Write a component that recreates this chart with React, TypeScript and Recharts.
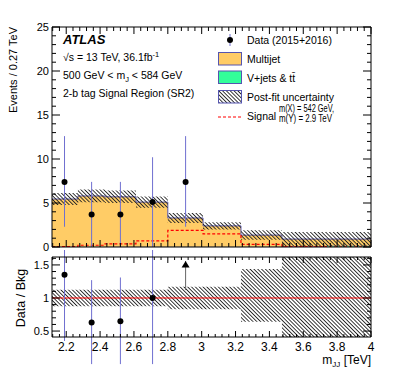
import React from 'react';
import { ComposedChart, Area, Line, Scatter, ErrorBar, XAxis, YAxis, ReferenceLine } from 'recharts';

// ---------- data ----------
const binEdges = [2.116, 2.269, 2.429, 2.612, 2.8, 3.008, 3.232, 3.474, 3.734, 4.0];
const multijet = [5.43, 5.78, 5.68, 5.08, 3.28, 2.38, 1.33, 0.85, 0.75];
const vjetsTT = [0.02, 0.02, 0.02, 0.02, 0.02, 0.02, 0.02, 0.05, 0.15];
const bkgUnc = [0.68, 0.72, 0.71, 0.64, 0.56, 0.41, 0.54, 0.8, 0.8];
const signal = [0.05, 0.2, 0.35, 0.7, 1.9, 1.5, 0.3, 0.05, 0.02];

const ratioBandLow = [0.875, 0.875, 0.875, 0.875, 0.83, 0.83, 0.64, 0.1, 0.1];
const ratioBandHigh = [1.125, 1.125, 1.125, 1.125, 1.17, 1.17, 1.44, 1.9, 1.9];

const dataX = [2.19, 2.35, 2.52, 2.71, 2.905];
const dataY = [7.4, 3.7, 3.7, 5.1, 7.4];
const dataErrLow = [5.1, 3.7, 3.7, 5.1, 5.1];
const dataErrHigh = [5.2, 3.7, 3.7, 5.1, 5.2];

const ratioX = [2.19, 2.35, 2.52, 2.71];
const ratioY = [1.35, 0.63, 0.65, 1.0];
const ratioErrLow = [1.0, 0.63, 0.65, 1.0];
const ratioErrHigh = [0.7, 0.64, 0.66, 1.0];

const arrowX = [2.905];
const arrowY = [1.56];
const arrowLen = [0.44];

const xMajorTicks = [2.2, 2.4, 2.6, 2.8, 3.0, 3.2, 3.4, 3.6, 3.8, 4.0];
const yTopMajorTicks = [0, 5, 10, 15, 20, 25];
const yRatioMajorTicks = [0.5, 1, 1.5];

// ---------- derived tables ----------
const histRows = binEdges.map((x, i) => {
  const j = Math.min(i, multijet.length - 1);
  const tot = multijet[j] + vjetsTT[j];
  return {
    x,
    vj: vjetsTT[j],
    mj: multijet[j],
    band: [tot - bkgUnc[j], tot + bkgUnc[j]],
    sig: signal[j],
    rband: [ratioBandLow[j], ratioBandHigh[j]],
  };
});
const dataPts = dataX.map((x, i) => ({ x, y: dataY[i], err: [dataErrLow[i], dataErrHigh[i]] }));
const ratioPts = ratioX.map((x, i) => ({ x, y: ratioY[i], err: [ratioErrLow[i], ratioErrHigh[i]] }));
const arrowPts = arrowX.map((x, i) => ({ x, y: arrowY[i], err: [arrowLen[i], 0] }));

const round = (v: number) => Math.round(v * 1000) / 1000;
function withMinor(lo: number, hi: number, step: number) {
  const out: number[] = [];
  const start = Math.ceil(lo / step - 1e-9);
  const end = Math.floor(hi / step + 1e-9);
  for (let k = start; k <= end; k++) out.push(round(k * step));
  return out;
}
const X_DOMAIN: [number, number] = [2.116, 4.0];
const xTicks = withMinor(2.116, 4.0, 0.04);
const yTopTicks = withMinor(0, 25, 1);
const R_DOMAIN: [number, number] = [0.41, 1.62];
const yRatioTicks = withMinor(0.41, 1.62, 0.1);

const FONT = "'Liberation Sans', Arial, Helvetica, sans-serif";
const isIn = (v: number, arr: number[]) => arr.some((a) => Math.abs(a - v) < 1e-6);
const fmt = (v: number) => String(Math.round(v * 10) / 10);

function xTick(side: 'bottom' | 'top', majLen: number, minLen: number, label: boolean, fs: number) {
  return (p: any) => {
    const v = p.payload.value;
    const maj = isIn(v, xMajorTicks);
    const len = maj ? majLen : minLen;
    const dir = side === 'bottom' ? -1 : 1;
    return (
      <g>
        <line x1={p.x} x2={p.x} y1={p.y} y2={p.y + dir * len} stroke="#000" strokeWidth={1} />
        {label && maj && (
          <text x={p.x} y={p.y + 14} textAnchor="middle" fontSize={fs} fontFamily={FONT} fill="#000">
            {fmt(v)}
          </text>
        )}
      </g>
    );
  };
}
function yTick(side: 'left' | 'right', majors: number[], majLen: number, minLen: number, label: boolean, fs: number) {
  return (p: any) => {
    const v = p.payload.value;
    const maj = isIn(v, majors);
    const len = maj ? majLen : minLen;
    const dir = side === 'left' ? 1 : -1;
    return (
      <g>
        <line x1={p.x} x2={p.x + dir * len} y1={p.y} y2={p.y} stroke="#000" strokeWidth={1} />
        {label && maj && (
          <text x={p.x - 3} y={p.y + 4} textAnchor="end" fontSize={fs} fontFamily={FONT} fill="#000">
            {fmt(v)}
          </text>
        )}
      </g>
    );
  };
}

const dot = (p: any) => <circle cx={p.cx} cy={p.cy} r={3} fill="#000" />;
const tri = (p: any) => (
  <polygon points={`${p.cx},${p.cy} ${p.cx - 4},${p.cy + 6.5} ${p.cx + 4},${p.cy + 6.5}`} fill="#000" />
);

const ORANGE = '#ffcc66';
const GREEN = '#33ff99';
const OUTLINE = '#5555b0';
const ERRC = '#6f6fd0';

const axisLine = { stroke: '#000', strokeWidth: 1 };

export default function App() {
  return (
    <div style={{ position: 'absolute', left: 0, top: 0, width: 399, height: 383, background: '#fff', fontFamily: FONT }}>
      <style>{`.ratio-clip .recharts-scatter, .ratio-clip .recharts-area { clip-path: url(#ratioClip); } .main-clip .recharts-scatter { clip-path: url(#mainClip); }`}</style>
      <svg width={1} height={1} style={{ position: 'absolute', left: 0, top: 0 }}>
        <defs>
          <pattern id="hatch" patternUnits="userSpaceOnUse" width={2.7} height={2.7} patternTransform="rotate(-45)">
            <line x1={1.35} y1={0} x2={1.35} y2={2.7} stroke="#222" strokeWidth={0.9} />
          </pattern>
          <clipPath id="ratioClip" clipPathUnits="userSpaceOnUse">
            <rect x={52} y={7} width={319} height={80} />
          </clipPath>
          <clipPath id="mainClip" clipPathUnits="userSpaceOnUse">
            <rect x={52} y={27} width={319} height={220} />
          </clipPath>
        </defs>
      </svg>

      {/* main panel */}
      <div className="main-clip" style={{ position: 'absolute', left: 0, top: 0 }}>
        <ComposedChart width={399} height={260} data={histRows} margin={{ top: 26, right: 27, bottom: 12, left: 51 }}>
          <XAxis xAxisId="b" type="number" dataKey="x" domain={X_DOMAIN} allowDataOverflow ticks={xTicks} interval={0}
            height={1} tickSize={0} tickMargin={0} tick={xTick('bottom', 7, 4, false, 11)} axisLine={axisLine} tickLine={false} />
          <XAxis xAxisId="t" orientation="top" type="number" dataKey="x" domain={X_DOMAIN} allowDataOverflow ticks={xTicks} interval={0}
            height={1} tickSize={0} tickMargin={0} tick={xTick('top', 7, 4, false, 11)} axisLine={axisLine} tickLine={false} />
          <YAxis yAxisId="l" type="number" domain={[0, 25]} allowDataOverflow ticks={yTopTicks} interval={0}
            width={1} tickSize={0} tickMargin={0} tick={yTick('left', yTopMajorTicks, 8, 4, true, 11)} axisLine={axisLine} tickLine={false} />
          <YAxis yAxisId="r" orientation="right" type="number" domain={[0, 25]} allowDataOverflow ticks={yTopTicks} interval={0}
            width={1} tickSize={0} tickMargin={0} tick={yTick('right', yTopMajorTicks, 8, 4, false, 11)} axisLine={axisLine} tickLine={false} />
          <Area xAxisId="b" yAxisId="l" type="stepAfter" dataKey="vj" stackId="s" fill={GREEN} fillOpacity={1} stroke={OUTLINE} strokeWidth={1} isAnimationActive={false} />
          <Area xAxisId="b" yAxisId="l" type="stepAfter" dataKey="mj" stackId="s" fill={ORANGE} fillOpacity={1} stroke={OUTLINE} strokeWidth={1} isAnimationActive={false} />
          <Area xAxisId="b" yAxisId="l" type="stepAfter" dataKey="band" fill="url(#hatch)" fillOpacity={1} stroke="none" isAnimationActive={false} />
          <Line xAxisId="b" yAxisId="l" type="stepAfter" dataKey="sig" stroke="#ff0000" strokeWidth={1.2} strokeDasharray="3 2" dot={false} isAnimationActive={false} />
          <Scatter xAxisId="b" yAxisId="l" data={dataPts} dataKey="y" shape={dot} isAnimationActive={false}>
            <ErrorBar dataKey="err" direction="y" width={0} stroke={ERRC} strokeWidth={1} />
          </Scatter>
        </ComposedChart>
      </div>

      {/* ratio panel */}
      <div className="ratio-clip" style={{ position: 'absolute', left: 0, top: 250 }}>
        <ComposedChart width={399} height={133} data={histRows} margin={{ top: 6, right: 27, bottom: 45, left: 51 }}>
          <XAxis xAxisId="b" type="number" dataKey="x" domain={X_DOMAIN} allowDataOverflow ticks={xTicks} interval={0}
            height={1} tickSize={0} tickMargin={0} tick={xTick('bottom', 6, 3, true, 12)} axisLine={axisLine} tickLine={false} />
          <XAxis xAxisId="t" orientation="top" type="number" dataKey="x" domain={X_DOMAIN} allowDataOverflow ticks={xTicks} interval={0}
            height={1} tickSize={0} tickMargin={0} tick={xTick('top', 6, 3, false, 12)} axisLine={axisLine} tickLine={false} />
          <YAxis yAxisId="l" type="number" domain={R_DOMAIN} allowDataOverflow ticks={yRatioTicks} interval={0}
            width={1} tickSize={0} tickMargin={0} tick={yTick('left', yRatioMajorTicks, 8, 4, true, 11)} axisLine={axisLine} tickLine={false} />
          <YAxis yAxisId="r" orientation="right" type="number" domain={R_DOMAIN} allowDataOverflow ticks={yRatioTicks} interval={0}
            width={1} tickSize={0} tickMargin={0} tick={yTick('right', yRatioMajorTicks, 8, 4, false, 11)} axisLine={axisLine} tickLine={false} />
          <Area xAxisId="b" yAxisId="l" type="stepAfter" dataKey="rband" fill="url(#hatch)" fillOpacity={1} stroke="none" isAnimationActive={false} />
          <ReferenceLine xAxisId="b" yAxisId="l" y={1} stroke="#ff0000" strokeWidth={1} />
          <Scatter xAxisId="b" yAxisId="l" data={ratioPts} dataKey="y" shape={dot} isAnimationActive={false}>
            <ErrorBar dataKey="err" direction="y" width={0} stroke={ERRC} strokeWidth={1} />
          </Scatter>
          <Scatter xAxisId="b" yAxisId="l" data={arrowPts} dataKey="y" shape={tri} isAnimationActive={false}>
            <ErrorBar dataKey="err" direction="y" width={0} stroke="#666" strokeWidth={1} />
          </Scatter>
        </ComposedChart>
      </div>

      {/* texts and legend */}
      <svg width={399} height={383} style={{ position: 'absolute', left: 0, top: 0, pointerEvents: 'none' }} fontFamily={FONT}>
        <text x={63} y={43.5} fontSize={13} fontWeight="bold" fontStyle="italic">ATLAS</text>
        <text x={63} y={61} fontSize={10.5}>√s = 13 TeV, 36.1fb<tspan fontSize={7.5} dy={-4}>-1</tspan></text>
        <text x={63} y={79} fontSize={10.5}>500 GeV &lt; m<tspan fontSize={7.5} dy={3}>J</tspan><tspan dy={-3}> &lt; 584 GeV</tspan></text>
        <text x={63} y={96.5} fontSize={10.5}>2-b tag Signal Region (SR2)</text>

        <line x1={230} x2={230} y1={34} y2={46} stroke={ERRC} strokeWidth={1} />
        <circle cx={230} cy={40} r={3} fill="#000" />
        <text x={247} y={44} fontSize={10.5}>Data (2015+2016)</text>

        <rect x={218.5} y={52.5} width={23} height={12.5} fill={ORANGE} stroke={OUTLINE} strokeWidth={1} />
        <text x={247} y={63} fontSize={10.5}>Multijet</text>

        <rect x={218.5} y={71} width={23} height={12.5} fill={GREEN} stroke={OUTLINE} strokeWidth={1} />
        <text x={247} y={81.5} fontSize={10.5}>{'V+jets & tt\u0304'}</text>

        <rect x={218.5} y={90.5} width={23} height={12.5} fill="url(#hatch)" stroke={OUTLINE} strokeWidth={1} />
        <text x={247} y={101} fontSize={10.5}>Post-fit uncertainty</text>

        <line x1={218} x2={242} y1={117} y2={117} stroke="#ff0000" strokeWidth={1.2} strokeDasharray="3 2" />
        <text x={247} y={120} fontSize={10.5}>Signal</text>
        <text x={279} y={111.5} fontSize={10} textLength={55} lengthAdjust="spacingAndGlyphs">m(X) = 542 GeV,</text>
        <text x={279} y={122} fontSize={10} textLength={53} lengthAdjust="spacingAndGlyphs">m(Y) = 2.9 TeV</text>

        <text transform="translate(16.5,27) rotate(-90)" textAnchor="end" fontSize={11}>Events / 0.27 TeV</text>
        <text transform="translate(24.5,298) rotate(-90)" textAnchor="middle" fontSize={12.5}>Data / Bkg</text>
        <text x={371} y={364} textAnchor="end" fontSize={12}>m<tspan fontSize={8} dy={3}>JJ</tspan><tspan dy={-3}> [TeV]</tspan></text>
      </svg>
    </div>
  );
}
